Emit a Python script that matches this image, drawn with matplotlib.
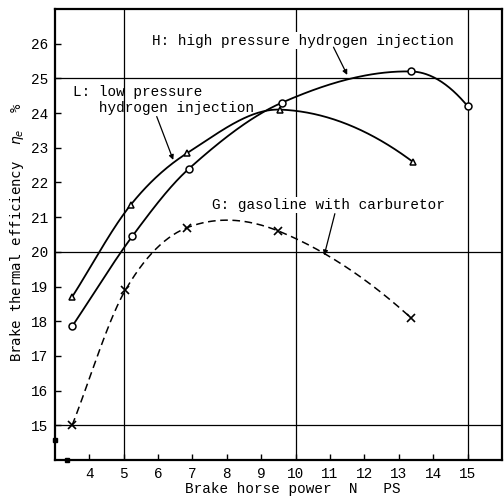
import numpy as np
import matplotlib
matplotlib.use("Agg")
import matplotlib.pyplot as plt

# Points (N in PS, efficiency in %)
h_power = [3.5, 5.25, 6.9, 9.6, 13.35, 15.0]
h_eff = [17.85, 20.45, 22.4, 24.3, 25.2, 24.2]

l_power = [3.5, 5.2, 6.85, 9.55, 13.4]
l_eff = [18.7, 21.35, 22.85, 24.1, 22.6]

g_power = [3.5, 5.05, 6.85, 9.5, 13.35]
g_eff = [15.0, 18.9, 20.7, 20.6, 18.1]

x_ticks = list(range(4, 16))
y_ticks = list(range(15, 27))


def smooth(xs, ys, n=60):
    # cubic Hermite through the read points (Catmull-Rom tangents), only for drawing the curve
    x = np.asarray(xs, float)
    y = np.asarray(ys, float)
    k = len(x)
    d = np.zeros(k)
    d[1:-1] = (y[2:] - y[:-2]) / (x[2:] - x[:-2])
    d[0] = (y[1] - y[0]) / (x[1] - x[0])
    d[-1] = 2 * (y[-1] - y[-2]) / (x[-1] - x[-2]) - d[-2]
    out_x, out_y = [], []
    for i in range(k - 1):
        h = x[i + 1] - x[i]
        t = np.linspace(0, 1, n)
        h00 = 2 * t ** 3 - 3 * t ** 2 + 1
        h10 = t ** 3 - 2 * t ** 2 + t
        h01 = -2 * t ** 3 + 3 * t ** 2
        h11 = t ** 3 - t ** 2
        out_x.append(x[i] + t * h)
        out_y.append(h00 * y[i] + h10 * h * d[i] + h01 * y[i + 1] + h11 * h * d[i + 1])
    return np.concatenate(out_x), np.concatenate(out_y)


plt.rcParams['font.family'] = ['Liberation Mono', 'DejaVu Sans Mono']

fig = plt.figure(figsize=(5.04, 5.0), dpi=100)
ax = fig.add_axes([0.109, 0.08, 0.887, 0.902])

# grid lines at 5/10/15 and 15/20/25
for gx in [5, 10, 15]:
    ax.axvline(gx, color='black', lw=0.9, zorder=1)
for gy in [15, 20, 25]:
    ax.axhline(gy, color='black', lw=0.9, zorder=1)

xs, ys = smooth(h_power, h_eff)
ax.plot(xs, ys, color='black', lw=1.3, zorder=3)
ax.plot(h_power, h_eff, 'o', ms=5, mfc='white', mec='black', mew=1.1, zorder=4)

xs, ys = smooth(l_power, l_eff)
ax.plot(xs, ys, color='black', lw=1.3, zorder=3)
ax.plot(l_power, l_eff, '^', ms=4.5, mfc='white', mec='black', mew=1.1, zorder=4)

xs, ys = smooth(g_power, g_eff)
ax.plot(xs, ys, color='black', lw=1.1, ls=(0, (5, 3)), zorder=3)
ax.plot(g_power, g_eff, 'x', ms=6, color='black', mew=1.2, zorder=4)

box = dict(facecolor='white', edgecolor='none', pad=1)
arrow = dict(arrowstyle='-|>', color='black', lw=0.9, mutation_scale=7, shrinkA=0, shrinkB=0)

ax.text(5.82, 26.08, 'H: high pressure hydrogen injection', fontsize=10.4,
        va='center', ha='left', bbox=box, zorder=5)
ax.annotate('', xy=(11.5, 25.1), xytext=(11.1, 25.9), arrowprops=arrow, zorder=5)

ax.text(3.52, 24.37, 'L: low pressure\n   hydrogen injection', fontsize=10.4,
        va='center', ha='left', linespacing=1.15, zorder=5)
ax.annotate('', xy=(6.44, 22.65), xytext=(5.96, 23.9), arrowprops=arrow, zorder=5)

ax.text(7.56, 21.35, 'G: gasoline with carburetor', fontsize=10.4,
        va='center', ha='left', bbox=box, zorder=5)
ax.annotate('', xy=(10.83, 19.9), xytext=(11.14, 21.1), arrowprops=arrow, zorder=5)

# little marks on the axes near the origin
ax.plot([3.0], [14.57], 's', ms=3.5, color='black', clip_on=False, zorder=6)
ax.plot([3.34], [14.0], 's', ms=3.5, color='black', clip_on=False, zorder=6)

ax.set_xlim(3, 16)
ax.set_ylim(14, 27)
ax.set_xticks(x_ticks)
ax.set_yticks(y_ticks)
ax.set_xticklabels([str(v) for v in x_ticks])
ax.set_yticklabels([str(v) for v in y_ticks])
ax.tick_params(direction='in', length=4, width=1, labelsize=10.4, pad=5)
for s in ax.spines.values():
    s.set_linewidth(1.6)

ax.text(0.532, -0.065, 'Brake horse power  N   PS', transform=ax.transAxes,
        ha='center', va='center', fontsize=10.4)
ax.text(-0.085, 0.505, r'Brake thermal efficiency  $\eta_e$  %', transform=ax.transAxes,
        rotation=90, ha='center', va='center', fontsize=10, family='DejaVu Sans Mono')

fig.savefig('out.png', dpi=100)
